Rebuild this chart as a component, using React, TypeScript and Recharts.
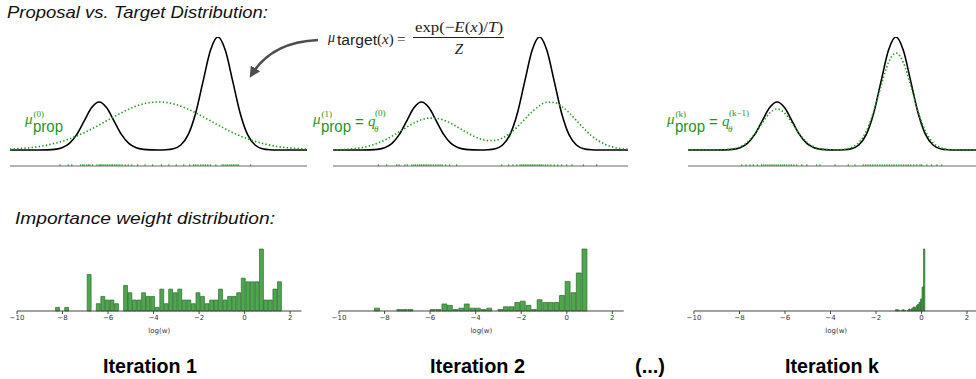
import React from 'react';
import { ComposedChart, Line, Scatter, XAxis, YAxis, ReferenceLine, BarChart, Bar } from 'recharts';

// ---- density panels: x grid (-5..5), target energy curve and proposals ----
const X_GRID = [
  -5, -4.75, -4.5, -4.25, -4, -3.75, -3.5, -3.25, -3, -2.75, -2.5, -2.25, -2, -1.75, -1.5, -1.25, -1, -0.75, -0.5, -0.25,
  0, 0.25, 0.5, 0.75, 1, 1.25, 1.5, 1.75, 2, 2.25, 2.5, 2.75, 3, 3.25, 3.5, 3.75, 4, 4.25, 4.5, 4.75, 5,
];
const TARGET = [
  0, 0, 0, 0, 0, 0.001, 0.005, 0.019, 0.058, 0.138, 0.258, 0.375, 0.425, 0.375, 0.258, 0.138, 0.058, 0.019, 0.005, 0.001,
  0, 0.002, 0.011, 0.044, 0.135, 0.325, 0.607, 0.882, 1, 0.882, 0.607, 0.325, 0.135, 0.044, 0.011, 0.002, 0, 0, 0, 0, 0,
];
const PROP_1 = [
  0.007, 0.011, 0.016, 0.022, 0.031, 0.043, 0.058, 0.076, 0.098, 0.124, 0.153, 0.186, 0.221, 0.258, 0.294, 0.329, 0.361, 0.388, 0.408, 0.421,
  0.425, 0.421, 0.408, 0.388, 0.361, 0.329, 0.294, 0.258, 0.221, 0.186, 0.153, 0.124, 0.098, 0.076, 0.058, 0.043, 0.031, 0.022, 0.016, 0.011, 0.007,
];
const PROP_2 = [
  0.002, 0.003, 0.007, 0.013, 0.022, 0.037, 0.059, 0.087, 0.122, 0.162, 0.202, 0.239, 0.267, 0.282, 0.28, 0.264, 0.235, 0.198, 0.16, 0.124,
  0.097, 0.083, 0.085, 0.107, 0.148, 0.205, 0.272, 0.339, 0.392, 0.422, 0.42, 0.387, 0.33, 0.261, 0.191, 0.129, 0.081, 0.047, 0.025, 0.012, 0.006,
];
const PROP_K = [
  0, 0, 0, 0, 0, 0.002, 0.009, 0.027, 0.069, 0.143, 0.24, 0.327, 0.363, 0.327, 0.24, 0.143, 0.069, 0.027, 0.009, 0.002,
  0.001, 0.005, 0.021, 0.065, 0.164, 0.339, 0.568, 0.774, 0.858, 0.774, 0.568, 0.339, 0.164, 0.065, 0.021, 0.005, 0.001, 0, 0, 0, 0,
];

// samples drawn from each proposal (rug)
const RUG_1 = [
  -3.32, -3.04, -2.92, -2.62, -2.55, -2.5, -2.42, -2.36, -2.31, -2.22, -2.07, -2.0, -1.95, -1.9, -1.84, -1.78, -1.72, -1.66, -1.6,
  -1.55, -1.48, -1.42, -1.36, -1.3, -1.22, -1.12, -1.02, -0.9, -0.7, -0.45, -0.2, 0.1, 0.35, 0.6, 0.85, 1.05, 1.18, 1.25, 1.33,
  1.42, 1.5, 1.58, 1.66, 1.75, 1.93, 2.14, 2.2, 2.27, 2.33, 2.4, 2.46, 2.52, 2.58, 2.64, 2.69, 3.1,
];
const RUG_2 = [
  -3.46, -3.18, -2.84, -2.76, -2.56, -2.48, -2.33, -2.26, -2.2, -2.13, -2.06, -2.0, -1.94, -1.88, -1.82, -1.75, -1.68, -1.6, -1.52,
  -1.44, -1.37, -1.3, -1.18, -1.05, -0.81, 0.72, 0.95, 1.1, 1.23, 1.34, 1.4, 1.46, 1.52, 1.58, 1.64, 1.7, 1.76, 1.82, 1.88, 1.94,
  2.0, 2.06, 2.12, 2.2, 2.28, 2.38, 2.5, 2.62, 2.75, 2.92, 3.1, 3.49, 3.94,
];
const RUG_K = [
  -3.19, -3.05, -2.91, -2.8, -2.66, -2.52, -2.45, -2.38, -2.31, -2.24, -2.17, -2.1, -2.03, -1.96, -1.89, -1.82, -1.75, -1.68, -1.6,
  -1.52, -1.44, -1.34, -1.17, -1.0, -0.67, -0.56, -0.05, 0.4, 0.62, 0.9, 0.98, 1.06, 1.14, 1.22, 1.3, 1.38, 1.46, 1.54, 1.62, 1.7,
  1.78, 1.86, 1.94, 2.02, 2.1, 2.18, 2.26, 2.34, 2.42, 2.5, 2.6, 2.7, 2.81, 2.87, 3.04, 3.2, 3.38, 3.54,
];

// ---- importance weight histograms (bin centre in log(w), count) ----
const HIST_1_X = [
  -8.21, -8.01, -7.81, -7.61, -7.41, -7.22, -7.02, -6.82, -6.62, -6.42, -6.22, -6.02, -5.82, -5.62, -5.42, -5.22, -5.03, -4.83,
  -4.63, -4.43, -4.23, -4.03, -3.83, -3.63, -3.43, -3.24, -3.04, -2.84, -2.64, -2.44, -2.24, -2.04, -1.84, -1.64, -1.44, -1.25,
  -1.05, -0.85, -0.65, -0.45, -0.25, -0.05, 0.15, 0.35, 0.55, 0.75, 0.94, 1.14, 1.34, 1.54,
];
const HIST_1_N = [
  1, 0, 1, 0, 0, 0, 0, 10, 0, 2, 4, 3, 3, 2, 0, 7, 5, 3, 3, 5, 4, 4, 1, 6, 2, 6, 5, 6, 3, 3, 2, 5, 4, 2, 3, 3, 6, 3, 4, 4, 5,
  9, 8, 8, 8, 17, 3, 3, 6, 8,
];
const HIST_2_X = [
  -8.32, -8.07, -7.83, -7.58, -7.34, -7.1, -6.85, -6.61, -6.36, -6.11, -5.87, -5.62, -5.36, -5.12, -4.87, -4.62, -4.38, -4.13,
  -3.89, -3.64, -3.39, -3.15, -2.9, -2.66, -2.41, -2.16, -1.92, -1.67, -1.43, -1.18, -0.93, -0.69, -0.44, -0.2, 0.05, 0.3, 0.54, 0.79,
];
const HIST_2_N = [
  2, 0, 0, 0, 1, 1, 1, 0, 0, 0, 1, 1, 5, 4, 1, 2, 5, 2, 2, 1, 2, 0, 1, 3, 3, 6, 7, 4, 1, 8, 6, 6, 6, 11, 21, 13, 27, 44,
];
const HIST_K_X = [
  -1.115, -1.05, -0.985, -0.92, -0.855, -0.79, -0.725, -0.66, -0.595, -0.53, -0.465, -0.4, -0.335, -0.27, -0.205, -0.14, -0.075,
  -0.01, 0.055, 0.12,
];
const HIST_K_N = [2, 2, 1, 0, 1, 2, 1, 0, 1, 3, 2, 4, 6, 5, 8, 10, 13, 18, 36, 93];

const HIST_TICKS = [-10, -8, -6, -4, -2, 0, 2];
const ITERATIONS = ['Iteration 1', 'Iteration 2', '(...)', 'Iteration k'];

const GREEN = '#1e961e';
const SANS = '"Liberation Sans", Arial, Helvetica, sans-serif';
const SERIF = '"Liberation Serif", "DejaVu Serif", serif';
const RUG_Y = -0.142;

const fmtMinus = (v: number) => (v < 0 ? '\u2212' + Math.abs(v) : String(v));

const RugTick = (props: any) => {
  const { cx, cy } = props;
  if (cx == null || cy == null) return null;
  return <line x1={cx} x2={cx} y1={cy - 1.8} y2={cy + 1.5} stroke={GREEN} strokeWidth={1.3} strokeOpacity={0.8} />;
};

const DensityPanel = ({ left, width, prop, rug }: { left: number; width: number; prop: number[]; rug: number[] }) => {
  const data = X_GRID.map((x, i) => ({ x, target: TARGET[i], prop: prop[i] }));
  const rugData = rug.map((x) => ({ x, y: RUG_Y }));
  return (
    <div style={{ position: 'absolute', left: left - 5, top: 32 }}>
      <ComposedChart width={width + 10} height={139} data={data} margin={{ top: 5, right: 5, bottom: 5, left: 5 }}>
        <XAxis type="number" dataKey="x" domain={[-5, 5]} hide />
        <YAxis type="number" domain={[RUG_Y, 1]} hide allowDataOverflow />
        <ReferenceLine y={RUG_Y} stroke="#6b6b6b" strokeWidth={1} />
        <Line type="monotone" dataKey="target" stroke="#000" strokeWidth={1.6} dot={false} isAnimationActive={false} />
        <Line
          type="monotone"
          dataKey="prop"
          stroke={GREEN}
          strokeWidth={1.6}
          strokeDasharray="1.4 2.2"
          dot={false}
          isAnimationActive={false}
        />
        <Scatter data={rugData} dataKey="y" shape={RugTick} isAnimationActive={false} />
      </ComposedChart>
    </div>
  );
};

const WeightHist = ({ left, width, xs, ns, barSize }: { left: number; width: number; xs: number[]; ns: number[]; barSize: number }) => {
  const data = xs.map((x, i) => ({ x, n: ns[i] }));
  return (
    <div style={{ position: 'absolute', left: left - 12, top: 244 }}>
      <BarChart width={width + 20} height={91} data={data} margin={{ top: 5, right: 8, bottom: 0, left: 12 }} barCategoryGap={0} barGap={0}>
        <XAxis
          type="number"
          dataKey="x"
          domain={[-10, 2.5]}
          ticks={HIST_TICKS}
          interval={0}
          allowDataOverflow
          tickFormatter={fmtMinus}
          tick={{ fontSize: 7, fill: '#333', fontFamily: 'DejaVu Sans' }}
          tickSize={3}
          tickMargin={1}
          axisLine={{ stroke: '#444', strokeWidth: 1 }}
          tickLine={{ stroke: '#444' }}
          height={24}
          label={{ value: 'log(w)', position: 'insideBottom', offset: 2, fontSize: 7, fill: '#333', fontFamily: 'DejaVu Sans' }}
        />
        <YAxis hide domain={[0, 'dataMax']} />
        <Bar dataKey="n" fill="#4ea64e" stroke="#2c6a2c" strokeWidth={0.7} barSize={barSize} isAnimationActive={false} />
      </BarChart>
    </div>
  );
};

const PropLabel = ({ x, sup, q }: { x: number; sup: string; q?: string }) => (
  <g fill={GREEN}>
    <text x={x} y={124} fontFamily={SERIF} fontStyle="italic" fontSize={15}>μ</text>
    <text x={x + 8.5} y={117} fontFamily={SERIF} fontSize={9}>{sup}</text>
    <text x={x + 8} y={131.5} fontFamily={SANS} fontSize={16} textLength={30} lengthAdjust="spacingAndGlyphs">prop</text>
    {q && (
      <>
        <text x={x + 42} y={127} fontFamily={SANS} fontSize={15}>=</text>
        <text x={x + 55} y={126} fontFamily={SERIF} fontStyle="italic" fontSize={15}>q</text>
        <text x={x + 62} y={115.5} fontFamily={SERIF} fontSize={9}>{q}</text>
        <text x={x + 61} y={132} fontFamily={SERIF} fontStyle="italic" fontSize={9}>θ</text>
      </>
    )}
  </g>
);

export default function App() {
  return (
    <div style={{ position: 'absolute', left: 0, top: 0, width: 976, height: 379, overflow: 'hidden', background: '#fff' }}>
      <DensityPanel left={10} width={297} prop={PROP_1} rug={RUG_1} />
      <DensityPanel left={333} width={295} prop={PROP_2} rug={RUG_2} />
      <DensityPanel left={688} width={297} prop={PROP_K} rug={RUG_K} />

      <WeightHist left={16.5} width={284.5} xs={HIST_1_X} ns={HIST_1_N} barSize={4.5} />
      <WeightHist left={339.3} width={284.7} xs={HIST_2_X} ns={HIST_2_N} barSize={5.6} />
      <WeightHist left={694.3} width={284.4} xs={HIST_K_X} ns={HIST_K_N} barSize={1.5} />

      <svg width={976} height={379} style={{ position: 'absolute', left: 0, top: 0, pointerEvents: 'none' }}>
        <defs>
          <marker id="head" viewBox="0 0 10 10" refX="6" refY="5" markerWidth="11" markerHeight="11" markerUnits="userSpaceOnUse" orient="auto">
            <path d="M0,0 L10,5 L0,10 z" fill="#4d4d4d" />
          </marker>
        </defs>
        <text x={7} y={18} fontFamily={SANS} fontStyle="italic" fontSize={16.5} fill="#111" textLength={261} lengthAdjust="spacingAndGlyphs">
          Proposal vs. Target Distribution:
        </text>
        <text x={15} y={224} fontFamily={SANS} fontStyle="italic" fontSize={16.5} fill="#111" textLength={260} lengthAdjust="spacingAndGlyphs">
          Importance weight distribution:
        </text>

        {/* formula + arrow */}
        <path d="M318,40 Q272,42 252,74" fill="none" stroke="#4d4d4d" strokeWidth={2.6} markerEnd="url(#head)" />
        <g fill="#222">
          <text x={328} y={42} fontFamily={SERIF} fontStyle="italic" fontSize={14}>μ</text>
          <text x={337} y={45} fontFamily={SANS} fontSize={14} textLength={40} lengthAdjust="spacingAndGlyphs">target</text>
          <text x={377} y={44} fontFamily={SERIF} fontSize={15}>
            (<tspan fontStyle="italic">x</tspan>)
          </text>
          <text x={397} y={44} fontFamily={SERIF} fontSize={15}>=</text>
          <text x={459} y={31.5} textAnchor="middle" fontFamily={SERIF} fontSize={15} textLength={88} lengthAdjust="spacingAndGlyphs">
            exp(−<tspan fontStyle="italic">E</tspan>(<tspan fontStyle="italic">x</tspan>)/<tspan fontStyle="italic">T</tspan>)
          </text>
          <line x1={413} x2={504} y1={37.5} y2={37.5} stroke="#222" strokeWidth={1.2} />
          <text x={459} y={54} textAnchor="middle" fontFamily={SERIF} fontStyle="italic" fontSize={15}>Z</text>
        </g>

        <PropLabel x={25} sup="(0)" />
        <PropLabel x={313} sup="(1)" q="(0)" />
        <PropLabel x={667} sup="(k)" q="(k−1)" />

        <g fontFamily={SANS} fontWeight="bold" fontSize={20} fill="#000">
          <text x={103} y={372.5} textLength={94} lengthAdjust="spacingAndGlyphs">{ITERATIONS[0]}</text>
          <text x={430} y={372.5} textLength={95} lengthAdjust="spacingAndGlyphs">{ITERATIONS[1]}</text>
          <text x={635} y={372.5} textLength={30} lengthAdjust="spacingAndGlyphs">{ITERATIONS[2]}</text>
          <text x={785} y={372.5} textLength={94} lengthAdjust="spacingAndGlyphs">{ITERATIONS[3]}</text>
        </g>
      </svg>
    </div>
  );
}
